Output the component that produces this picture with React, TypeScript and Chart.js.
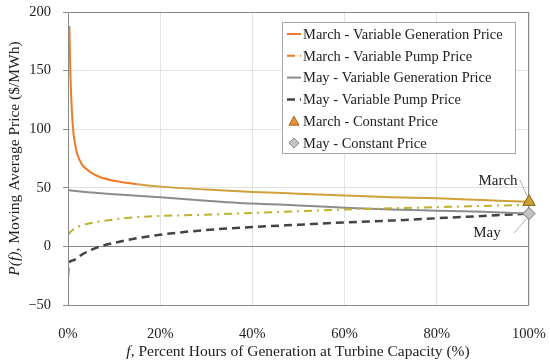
import React, { useEffect, useRef } from "react";
import { Chart, registerables } from "chart.js";
Chart.register(...registerables);

const FONT = '"Liberation Serif", "Times New Roman", serif';

// f (% hours) positions and series values ($/MWh)
const marchGenX = [0.3, 0.5, 1, 1.5, 2, 3, 4, 5, 7, 10, 15, 20, 30, 40, 50, 60, 70, 80, 90, 100];
const marchGenY = [188, 150, 105, 88, 79, 70, 66, 63, 59, 56, 53, 51, 48.5, 46.5, 45, 43.5, 42, 41, 39.5, 38];
const marchPumpX = [0, 1, 3, 5, 10, 15, 20, 30, 40, 50, 60, 70, 80, 90, 100];
const marchPumpY = [10, 14, 18, 20, 23, 25, 26, 27, 28.5, 30, 31.5, 32.5, 33.5, 34.5, 35.5];
const mayGenX = [0, 5, 10, 20, 30, 40, 50, 60, 70, 80, 90, 100];
const mayGenY = [48, 46, 44.5, 42, 39, 36.5, 35, 33, 31.5, 30.5, 29.5, 28];
const mayPumpX = [0, 0.1, 1, 3, 5, 7, 10, 15, 20, 30, 40, 50, 60, 70, 80, 90, 100];
const mayPumpY = [-25, -15, -12, -7, -3, 0, 3, 7, 10, 14, 16.5, 18.5, 20.5, 22, 24, 26, 28];
const marchConstX = [100];
const marchConstY = [38];
const mayConstX = [100];
const mayConstY = [28];

const seriesLabels = [
  "March - Variable Generation Price",
  "March - Variable Pump Price",
  "May - Variable Generation Price",
  "May - Variable Pump Price",
  "March - Constant Price",
  "May - Constant Price",
];
const xTicks = [0, 20, 40, 60, 80, 100];
const yTicks = [-50, 0, 50, 100, 150, 200];
const annotMarch = "March";
const annotMay = "May";

const ORANGE = "#f07a28";
const GOLD = "#d0a03a";
const OLIVE = "#bdb22a";
const GREY = "#8c8c8c";
const DARK = "#444444";

const toXY = (xs: number[], ys: number[]) => xs.map((x, i) => ({ x, y: ys[i] }));

function drawMixed(ctx: CanvasRenderingContext2D, parts: [string, boolean][], size: number) {
  let total = 0;
  const widths = parts.map(([t, it]) => {
    ctx.font = `${it ? "italic " : ""}${size}px ${FONT}`;
    const w = ctx.measureText(t).width;
    total += w;
    return w;
  });
  let x = -total / 2;
  parts.forEach(([t, it], i) => {
    ctx.font = `${it ? "italic " : ""}${size}px ${FONT}`;
    ctx.fillText(t, x, 0);
    x += widths[i];
  });
}

const decoPlugin = {
  id: "deco",
  afterDatasetsDraw(chart: any) {
    const ctx: CanvasRenderingContext2D = chart.ctx;
    const { left, right, top, bottom } = chart.chartArea;
    ctx.save();
    ctx.strokeStyle = "#8a8a8a";
    ctx.lineWidth = 1;
    ctx.strokeRect(left + 0.5, top + 0.5, right - left - 1, bottom - top);
    ctx.restore();
  },
  afterDraw(chart: any) {
    const ctx: CanvasRenderingContext2D = chart.ctx;
    const { top, bottom } = chart.chartArea;
    const xs = chart.scales.x;
    const ys = chart.scales.y;
    ctx.save();

    // re-draw constant markers above frame
    [4, 5].forEach((i) => {
      const meta = chart.getDatasetMeta(i);
      meta.data.forEach((el: any) => el.draw(ctx, chart.chartArea));
    });

    // annotations
    ctx.fillStyle = "#222";
    ctx.textBaseline = "middle";
    ctx.textAlign = "center";
    ctx.font = `15px ${FONT}`;
    ctx.fillText(annotMarch, 498, 181);
    ctx.fillText(annotMay, 487, 233);
    ctx.strokeStyle = "#b0b0b0";
    ctx.lineWidth = 1;
    ctx.beginPath();
    ctx.moveTo(520, 180);
    ctx.lineTo(xs.getPixelForValue(100) - 2, ys.getPixelForValue(marchConstY[0]) - 6);
    ctx.moveTo(514, 233);
    ctx.lineTo(xs.getPixelForValue(100) - 2, ys.getPixelForValue(mayConstY[0]) + 5);
    ctx.stroke();

    // legend
    const lx = 282, ly = 22, lw = 233, lh = 131;
    ctx.fillStyle = "#ffffff";
    ctx.fillRect(lx, ly, lw, lh);
    ctx.strokeStyle = "#a8a8a8";
    ctx.strokeRect(lx + 0.5, ly + 0.5, lw, lh);
    const rowH = 21.8;
    chart.data.datasets.forEach((ds: any, i: number) => {
      const cy = ly + 12 + i * rowH;
      const x0 = lx + 5, x1 = lx + 19;
      if (i < 4) {
        ctx.strokeStyle = ds.borderColor;
        ctx.lineWidth = ds.borderWidth;
        ctx.setLineDash(ds.borderDash || []);
        ctx.beginPath();
        ctx.moveTo(x0, cy);
        ctx.lineTo(x1, cy);
        ctx.stroke();
        ctx.setLineDash([]);
      } else {
        const cx = (x0 + x1) / 2;
        ctx.fillStyle = i === 4 ? "#e8903a" : "#c4c4c4";
        ctx.strokeStyle = i === 4 ? "#9a6a20" : "#8a8a8a";
        ctx.lineWidth = 1;
        ctx.beginPath();
        if (i === 4) {
          ctx.moveTo(cx, cy - 5);
          ctx.lineTo(cx + 5, cy + 4);
          ctx.lineTo(cx - 5, cy + 4);
        } else {
          ctx.moveTo(cx, cy - 5);
          ctx.lineTo(cx + 5, cy);
          ctx.lineTo(cx, cy + 5);
          ctx.lineTo(cx - 5, cy);
        }
        ctx.closePath();
        ctx.fill();
        ctx.stroke();
      }
      ctx.fillStyle = "#222";
      ctx.textAlign = "left";
      ctx.font = `14.5px ${FONT}`;
      ctx.fillText(ds.label, lx + 21, cy + 1);
    });

    // axis titles
    ctx.fillStyle = "#222";
    ctx.textAlign = "left";
    ctx.textBaseline = "middle";
    ctx.save();
    ctx.translate(298, 352);
    drawMixed(ctx, [["f", true], [", Percent Hours of Generation at Turbine Capacity (%)", false]], 15.5);
    ctx.restore();
    ctx.save();
    ctx.translate(15, (top + bottom) / 2);
    ctx.rotate(-Math.PI / 2);
    drawMixed(ctx, [["P(f)", true], [", Moving Average Price ($/MWh)", false]], 15.5);
    ctx.restore();
    ctx.restore();
  },
};

export default function App() {
  const ref = useRef<HTMLCanvasElement | null>(null);
  useEffect(() => {
    document.body.style.margin = "0";
    const canvas = ref.current!;
    const chart = new Chart(canvas, {
      type: "line",
      data: {
        datasets: [
          {
            label: seriesLabels[0],
            data: toXY(marchGenX, marchGenY),
            borderColor: ORANGE,
            borderWidth: 2,
            pointRadius: 0,
            cubicInterpolationMode: "monotone",
            segment: { borderColor: (c: any) => (c.p0.parsed.x < 15 ? ORANGE : GOLD) },
          },
          {
            label: seriesLabels[1],
            data: toXY(marchPumpX, marchPumpY),
            borderColor: ORANGE,
            borderWidth: 2,
            borderDash: [8, 5, 2, 5],
            pointRadius: 0,
            cubicInterpolationMode: "monotone",
            segment: { borderColor: () => OLIVE },
          },
          {
            label: seriesLabels[2],
            data: toXY(mayGenX, mayGenY),
            borderColor: GREY,
            borderWidth: 2,
            pointRadius: 0,
            cubicInterpolationMode: "monotone",
          },
          {
            label: seriesLabels[3],
            data: toXY(mayPumpX, mayPumpY),
            borderColor: DARK,
            borderWidth: 2.5,
            borderDash: [8, 5],
            pointRadius: 0,
            cubicInterpolationMode: "monotone",
          },
          {
            label: seriesLabels[4],
            data: toXY(marchConstX, marchConstY),
            showLine: false,
            clip: false,
            pointStyle: "triangle",
            pointRadius: 7,
            backgroundColor: "#c9a23a",
            borderColor: "#8a6a1a",
            borderWidth: 1,
          },
          {
            label: seriesLabels[5],
            data: toXY(mayConstX, mayConstY),
            showLine: false,
            clip: false,
            pointStyle: "rectRot",
            pointRadius: 6,
            backgroundColor: "#c4c4c4",
            borderColor: "#8a8a8a",
            borderWidth: 1,
          },
        ] as any,
      },
      options: {
        animation: false,
        responsive: true,
        maintainAspectRatio: false,
        layout: { autoPadding: false, padding: { top: 12, right: 21, left: 0, bottom: 0 } },
        plugins: { legend: { display: false }, tooltip: { enabled: false } },
        scales: {
          x: {
            type: "linear",
            min: 0,
            max: 100,
            afterBuildTicks: (s: any) => {
              s.ticks = xTicks.map((v) => ({ value: v }));
            },
            afterFit: (s: any) => {
              s.height = 59;
              s.paddingLeft = 0;
              s.paddingRight = 0;
            },
            ticks: {
              callback: (v: any) => `${v}%`,
              font: { family: FONT, size: 14.5 },
              color: "#222",
              padding: 20,
              maxRotation: 0,
            },
            grid: { color: "#e2e2e2", drawTicks: false },
            border: { display: false },
          },
          y: {
            min: -50,
            max: 200,
            afterBuildTicks: (s: any) => {
              s.ticks = yTicks.map((v) => ({ value: v }));
            },
            afterFit: (s: any) => {
              s.width = 68;
              s.paddingTop = 0;
              s.paddingBottom = 0;
            },
            ticks: {
              callback: (v: any) => (v < 0 ? `\u2212${Math.abs(v)}` : `${v}`),
              font: { family: FONT, size: 14.5 },
              color: "#222",
              padding: 12,
            },
            grid: {
              color: (c: any) => (c.tick && c.tick.value === 0 ? "#8a8a8a" : "#e2e2e2"),
              tickColor: "#8a8a8a",
              tickLength: 5,
            },
            border: { display: false },
          },
        },
      } as any,
      plugins: [decoPlugin],
    });
    return () => chart.destroy();
  }, []);
  return (
    <div style={{ position: "relative", width: 550, height: 364 }}>
      <canvas ref={ref} />
    </div>
  );
}
